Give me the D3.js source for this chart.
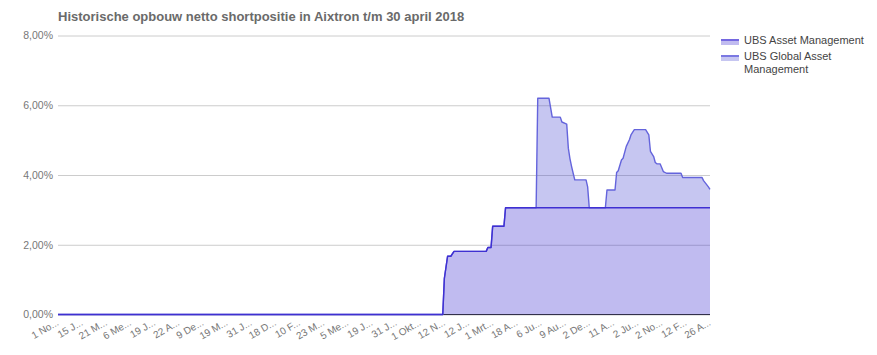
<!DOCTYPE html>
<html>
<head>
<meta charset="utf-8">
<script src="https://cdn.jsdelivr.net/npm/d3@7"></script>
<style>
  html, body { margin: 0; padding: 0; background: #fff; }
  svg { display: block; font-family: Arial, "Liberation Sans", sans-serif; }
</style>
</head>
<body>
<svg id="chart" width="877" height="355"></svg>
<script>
// ---- data ----
const title = "Historische opbouw netto shortpositie in Aixtron t/m 30 april 2018";
const seriesNames = ["UBS Asset Management", "UBS Global Asset Management"];
const rowCount = 406;           // number of rows (dates) in the table
const tickEvery = 15;           // a label is shown every 15th row
const tickLabels = ["1 No...", "15 J...", "21 M...", "6 Me...", "19 J...", "22 A...", "9 De...", "19 M...",
  "31 J...", "18 D...", "10 F...", "23 M...", "5 Me...", "19 J...", "31 J...", "1 Okt...", "12 N...",
  "12 J...", "1 Mrt...", "18 A...", "6 Ju...", "9 Au...", "2 De...", "11 A...", "2 Ju...", "2 No...",
  "12 F...", "26 A..."];
const yTicks = [0, 2, 4, 6, 8];

// rows where a value changes (row index) and the values of each series at those rows (%)
const rowIndex = [0, 239, 240, 242, 244, 246, 266, 267, 269, 270, 277, 278,
  297, 298, 305, 307, 312, 313, 316, 317, 318, 319, 320, 321, 328, 329, 330, 340, 341, 346, 347, 348,
  350, 351, 353, 355, 356, 358, 365, 367, 368, 370, 371, 372, 374, 376, 378, 387, 388, 400, 401, 404, 405];
const ubsAssetMgmt = [0, 0, 1.04, 1.67, 1.67, 1.81, 1.81, 1.92, 1.92, 2.53, 2.53, 3.06,
  3.06, 3.06, 3.06, 3.06, 3.06, 3.06, 3.06, 3.06, 3.06, 3.06, 3.06, 3.06, 3.06, 3.06, 3.06, 3.06, 3.06, 3.06, 3.06, 3.06,
  3.06, 3.06, 3.06, 3.06, 3.06, 3.06, 3.06, 3.06, 3.06, 3.06, 3.06, 3.06, 3.06, 3.06, 3.06, 3.06, 3.06, 3.06, 3.06, 3.06, 3.06];
const ubsGlobalAssetMgmt = [0, 0, 0, 0, 0, 0, 0, 0, 0, 0, 0, 0,
  0, 3.14, 3.14, 2.60, 2.60, 2.46, 2.40, 1.71, 1.41, 1.19, 0.99, 0.80, 0.80, 0.60, 0, 0, 0.51, 0.51, 1.01, 1.06,
  1.37, 1.42, 1.76, 1.96, 2.10, 2.24, 2.24, 2.09, 1.62, 1.47, 1.30, 1.26, 1.26, 1.04, 0.99, 0.99, 0.87, 0.87, 0.78, 0.60, 0.53];

// ---- layout / style ----
const margin = { left: 58, right: 167, top: 35.5, bottom: 40.5 };
const W = 877, H = 355;
const colors = [
  { line: "#3f30d2", fill: "#3c2bd0", op: 0.32, legLine: "#7468e0" },
  { line: "#6464dc", fill: "#4242d2", op: 0.30, legLine: "#7a78e2" }
];

const svg = d3.select("#chart");
const x = d3.scaleLinear().domain([0, rowCount - 1]).range([margin.left, W - margin.right]);
const y = d3.scaleLinear().domain([0, 8]).range([H - margin.bottom, margin.top]);

// title
svg.append("text").attr("x", 58).attr("y", 20.5)
  .attr("font-size", 13).attr("font-weight", "bold").attr("fill", "#6a6a6a")
  .text(title);

// y gridlines + labels
const yAxis = d3.axisLeft(y).tickValues(yTicks)
  .tickSize(-(W - margin.left - margin.right))
  .tickFormat(d => d3.format(".2f")(d).replace(".", ",") + "%");
const gy = svg.append("g").attr("transform", `translate(${margin.left},0)`).call(yAxis);
gy.select(".domain").remove();
gy.selectAll(".tick line").attr("stroke", "#cccccc").attr("stroke-width", 1);
gy.selectAll(".tick text").attr("x", -5).attr("fill", "#777").attr("font-size", 10.5)
  .attr("font-family", "Arial, 'Liberation Sans', sans-serif");

// stacked data
const rows = rowIndex.map((r, i) => ({ r, a: ubsAssetMgmt[i], g: ubsGlobalAssetMgmt[i] }));
const stack = d3.stack().keys(["a", "g"])(rows);

// baseline
svg.append("line").attr("x1", margin.left).attr("x2", W - margin.right)
  .attr("y1", y(0)).attr("y2", y(0)).attr("stroke", "#333").attr("stroke-width", 1);

const area = d3.area().x(d => x(d.data.r)).y0(d => y(d[0])).y1(d => y(d[1]));
const line = d3.line().x(d => x(d.data.r)).y(d => y(d[1]));

stack.forEach((s, i) => {
  svg.append("path").attr("d", area(s)).attr("fill", colors[i].fill)
    .attr("fill-opacity", colors[i].op).attr("stroke", "none");
});
[1, 0].forEach(i => {
  svg.append("path").attr("d", line(stack[i])).attr("fill", "none")
    .attr("stroke", colors[i].line).attr("stroke-width", 1.4).attr("stroke-linejoin", "round");
});

// x axis labels
const tickVals = tickLabels.map((_, i) => i * tickEvery);
const xAxis = d3.axisBottom(x).tickValues(tickVals).tickSize(0)
  .tickFormat((d, i) => tickLabels[i]);
const gx = svg.append("g").attr("transform", `translate(0,${H - margin.bottom})`).call(xAxis);
gx.select(".domain").remove();
gx.selectAll(".tick text")
  .attr("font-size", 10).attr("fill", "#777")
  .attr("font-family", "Arial, 'Liberation Sans', sans-serif")
  .attr("text-anchor", "end").attr("dy", 0).attr("y", 0)
  .attr("transform", "translate(1,10) rotate(-30)");

// legend
const lg = svg.append("g");
const legendItems = [
  { lines: ["UBS Asset Management"], y: 39, c: colors[0] },
  { lines: ["UBS Global Asset", "Management"], y: 55, c: colors[1] }
];
legendItems.forEach((it, i) => {
  lg.append("rect").attr("x", 721).attr("y", it.y).attr("width", 18).attr("height", 6)
    .attr("fill", it.c.fill).attr("fill-opacity", it.c.op);
  lg.append("rect").attr("x", 721).attr("y", it.y).attr("width", 18).attr("height", 2)
    .attr("fill", it.c.legLine);
  const t = lg.append("text").attr("x", 744).attr("y", it.y + 4.5)
    .attr("font-size", 11).attr("fill", "#444");
  it.lines.forEach((ln, j) => {
    t.append("tspan").attr("x", 744).attr("dy", j === 0 ? 0 : 13).text(ln);
  });
});
</script>
</body>
</html>
